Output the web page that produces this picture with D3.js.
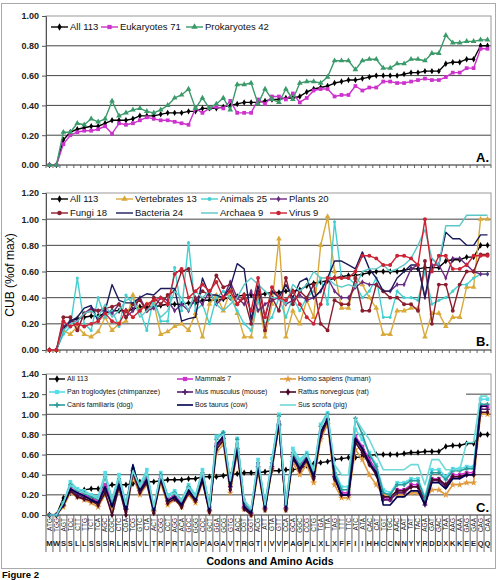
<!DOCTYPE html>
<html>
<head>
<meta charset="utf-8">
<script src="https://cdn.jsdelivr.net/npm/d3@7"></script>
<style>
body { margin: 0; background: #fff; }
svg text { font-family: "Liberation Sans", Arial, sans-serif; }
</style>
</head>
<body>
<div id="chart"></div>
<script>
// categories
const codons = ["ATG","TGG","AGT","TCC","CTT","TTG","TCT","TCA","AGC","CGC","CTC","CGA","TCG","GTC","CTA","ACT",
  "CGG","CCT","AGG","ACA","GCC","GGG","CCC","GCT","GGA","GCG","GTG","ACC","CGT","GGT","ACG","ATT",
  "GTA","GTT","CCA","GCA","GGC","CCG","CTG","TGA","TTA","TAG","TTT","TTC","ATC","ATA","CAC","CAT",
  "TGT","TGC","AAC","AAT","TAT","TAC","AGA","GAT","GAC","TAA","AAG","AAA","GAG","GAA","CAG","CAA"];
const aminoAcids = ["M","W","S","S","L","L","S","S","S","R","L","R","S","V","L","T",
  "R","P","R","T","A","G","P","A","G","A","V","T","R","G","T","I",
  "V","V","P","A","G","P","L","X","L","X","F","F","I","I","H","H",
  "C","C","N","N","Y","Y","R","D","D","X","K","K","E","E","Q","Q"];

// series (CUB, fraction of max)
const all113 = [0,0,0.17,0.22,0.24,0.25,0.26,0.26,0.28,0.30, 0.30,0.30,0.31,0.33,0.33,0.33,0.34,0.35,0.35,0.35,
  0.36,0.36,0.38,0.38,0.38,0.39,0.40,0.41,0.42,0.42, 0.42,0.43,0.44,0.44,0.45,0.45,0.46,0.49,0.51,0.52,
  0.53,0.55,0.56,0.57,0.57,0.58,0.59,0.60,0.60,0.60, 0.60,0.61,0.62,0.62,0.63,0.63,0.63,0.68,0.69,0.69,
  0.71,0.71,0.80,0.80];
const eukaryotes = [0,0,0.14,0.20,0.22,0.23,0.23,0.24,0.26,0.21, 0.28,0.27,0.28,0.30,0.32,0.31,0.30,0.30,0.29,0.28,
  0.27,0.38,0.35,0.38,0.39,0.38,0.43,0.35,0.35,0.35, 0.44,0.41,0.46,0.46,0.44,0.48,0.42,0.45,0.50,0.51,
  0.51,0.46,0.47,0.47,0.53,0.50,0.52,0.52,0.56,0.56, 0.55,0.55,0.56,0.57,0.58,0.57,0.57,0.59,0.62,0.62,
  0.65,0.65,0.78,0.78];
const prokaryotes = [0,0,0.22,0.22,0.28,0.27,0.31,0.29,0.31,0.43, 0.33,0.35,0.37,0.38,0.36,0.35,0.37,0.40,0.45,0.47,
  0.51,0.38,0.45,0.38,0.41,0.45,0.37,0.54,0.54,0.55, 0.41,0.51,0.44,0.42,0.51,0.44,0.55,0.56,0.56,0.55,
  0.59,0.70,0.70,0.70,0.64,0.70,0.71,0.71,0.65,0.65, 0.68,0.68,0.71,0.71,0.70,0.75,0.75,0.87,0.82,0.82,
  0.83,0.83,0.84,0.84];

const vertebrates = [0,0,0.15,0.12,0.18,0.12,0.10,0.14,0.25,0.15, 0.20,0.22,0.42,0.30,0.35,0.36,0.12,0.14,0.18,0.20,
  0.15,0.28,0.10,0.35,0.42,0.30,0.45,0.28,0.10,0.10, 0.40,0.10,0.35,0.85,0.10,0.30,0.20,0.38,0.25,0.80,
  1.02,0.60,0.32,0.32,0.55,0.50,0.40,0.32,0.12,0.12, 0.30,0.30,0.32,0.32,0.10,0.28,0.28,0.18,0.25,0.25,
  0.48,0.48,1.00,1.00];
const animals = [0,0,0.12,0.18,0.55,0.20,0.15,0.40,0.25,0.30, 0.18,0.42,0.35,0.30,0.15,0.40,0.22,0.22,0.63,0.30,
  0.82,0.30,0.35,0.20,0.40,0.45,0.40,0.30,0.20,0.15, 0.38,0.20,0.25,0.40,0.25,0.40,0.30,0.40,0.45,0.55,
  0.35,0.98,0.55,0.55,0.50,0.40,0.45,0.55,0.25,0.25, 0.45,0.40,0.40,0.38,0.60,0.35,0.38,0.40,0.45,0.50,
  0.50,0.55,0.58,0.58];
const plants = [0,0,0.18,0.22,0.22,0.28,0.32,0.30,0.30,0.28, 0.35,0.25,0.30,0.40,0.30,0.32,0.40,0.38,0.30,0.35,
  0.30,0.40,0.35,0.45,0.35,0.40,0.52,0.40,0.35,0.45, 0.30,0.35,0.38,0.40,0.35,0.38,0.42,0.38,0.40,0.45,
  0.55,0.45,0.40,0.40,0.48,0.52,0.50,0.50,0.45,0.45, 0.50,0.50,0.62,0.65,0.40,0.65,0.65,0.55,0.70,0.70,
  0.65,0.60,0.58,0.58];
const fungi = [0,0,0.25,0.25,0.15,0.28,0.30,0.30,0.32,0.33, 0.35,0.25,0.35,0.38,0.30,0.40,0.35,0.42,0.45,0.60,
  0.62,0.38,0.45,0.42,0.57,0.48,0.50,0.35,0.40,0.20, 0.45,0.15,0.40,0.30,0.55,0.35,0.45,0.40,0.50,0.20,
  0.15,0.38,0.35,0.35,0.55,0.30,0.30,0.50,0.45,0.40, 0.40,0.35,0.35,0.30,0.68,0.20,0.50,0.50,0.30,0.50,
  0.60,0.60,0.73,0.73];
const bacteria = [0,0,0.15,0.22,0.25,0.32,0.34,0.22,0.30,0.50, 0.38,0.36,0.36,0.40,0.43,0.42,0.47,0.47,0.47,0.22,
  0.24,0.25,0.55,0.42,0.42,0.40,0.48,0.66,0.62,0.23, 0.50,0.25,0.45,0.40,0.50,0.40,0.52,0.55,0.40,0.45,
  0.55,0.68,0.68,0.65,0.62,0.75,0.62,0.55,0.45,0.45, 0.55,0.60,0.65,0.65,0.40,0.70,0.65,0.90,0.85,0.85,
  0.80,0.80,0.88,0.88];
const archaea = [0,0,0.15,0.20,0.22,0.28,0.30,0.25,0.35,0.25, 0.30,0.38,0.40,0.25,0.30,0.35,0.25,0.30,0.45,0.40,
  0.30,0.45,0.40,0.45,0.35,0.30,0.35,0.40,0.50,0.55, 0.50,0.45,0.40,0.40,0.35,0.50,0.45,0.50,0.60,0.55,
  0.55,0.50,0.48,0.50,0.48,0.60,0.62,0.62,0.65,0.60, 0.62,0.65,0.70,0.80,0.92,0.70,0.65,0.95,0.95,0.95,
  1.03,1.03,1.03,1.03];
const virus = [0,0,0.22,0.18,0.20,0.18,0.20,0.22,0.28,0.22, 0.20,0.30,0.25,0.30,0.35,0.38,0.40,0.35,0.58,0.62,
  0.40,0.45,0.50,0.45,0.52,0.40,0.45,0.35,0.42,0.30, 0.55,0.25,0.48,0.40,0.38,0.45,0.35,0.25,0.20,0.35,
  0.55,0.55,0.55,0.55,0.60,0.72,0.72,0.70,0.65,0.65, 0.72,0.72,0.70,0.65,1.00,0.60,0.72,0.72,0.62,0.62,
  0.65,0.72,0.72,0.72];

const mammals = [0,0,0.10,0.27,0.22,0.20,0.17,0.14,0.30,0.12, 0.32,0.08,0.45,0.25,0.36,0.06,0.38,0.15,0.20,0.12,
  0.26,0.16,0.38,0.06,0.70,0.78,0.30,0.70,0.10,0.03, 0.50,0.08,0.50,0.92,0.08,0.60,0.48,0.58,0.40,0.82,
  0.95,0.40,0.22,0.22,0.78,0.68,0.55,0.45,0.18,0.15, 0.25,0.25,0.30,0.30,0.12,0.36,0.36,0.30,0.40,0.40,
  0.42,0.42,1.08,1.08];
const homoSapiens = [0,0,0.08,0.22,0.18,0.15,0.12,0.08,0.20,0.05, 0.25,0.05,0.38,0.20,0.30,0.03,0.32,0.10,0.15,0.08,
  0.20,0.12,0.32,0.03,0.62,0.70,0.22,0.62,0.06,0.00, 0.42,0.05,0.45,0.88,0.05,0.52,0.40,0.50,0.32,0.75,
  0.90,0.30,0.17,0.17,0.65,0.55,0.40,0.30,0.20,0.20, 0.20,0.20,0.22,0.22,0.15,0.25,0.25,0.20,0.30,0.30,
  0.32,0.32,1.00,1.00];
const panTroglodytes = [0,0,0.12,0.33,0.26,0.24,0.20,0.18,0.42,0.16, 0.40,0.12,0.46,0.30,0.45,0.08,0.42,0.20,0.24,0.15,
  0.30,0.20,0.45,0.10,0.78,0.82,0.35,0.76,0.15,0.06, 0.55,0.12,0.56,1.00,0.12,0.66,0.55,0.62,0.45,0.90,
  1.02,0.45,0.28,0.28,0.85,0.75,0.62,0.50,0.25,0.22, 0.32,0.32,0.36,0.36,0.18,0.45,0.45,0.38,0.46,0.46,
  0.48,0.48,1.15,1.15];
const musMusculus = [0,0,0.10,0.25,0.20,0.18,0.16,0.12,0.26,0.10, 0.30,0.06,0.44,0.24,0.34,0.05,0.36,0.14,0.18,0.10,
  0.24,0.15,0.36,0.05,0.68,0.76,0.28,0.66,0.08,0.02, 0.48,0.07,0.48,0.90,0.07,0.58,0.46,0.56,0.38,0.80,
  0.95,0.38,0.20,0.20,0.75,0.65,0.52,0.42,0.15,0.15, 0.22,0.22,0.28,0.28,0.10,0.34,0.34,0.28,0.38,0.38,
  0.40,0.40,1.05,1.05];
const rattusNorvegicus = [0,0,0.10,0.24,0.18,0.16,0.14,0.10,0.22,0.00, 0.28,0.00,0.42,0.22,0.32,0.02,0.35,0.12,0.16,0.08,
  0.22,0.14,0.34,0.03,0.65,0.74,0.25,0.64,0.06,0.00, 0.46,0.05,0.46,0.90,0.05,0.56,0.44,0.54,0.36,0.78,
  0.94,0.36,0.20,0.20,0.72,0.62,0.50,0.40,0.18,0.18, 0.24,0.24,0.28,0.28,0.15,0.35,0.35,0.30,0.38,0.38,
  0.40,0.40,1.02,1.02];
const canisFamiliaris = [0,0,0.12,0.30,0.24,0.22,0.18,0.16,0.38,0.14, 0.36,0.10,0.46,0.28,0.40,0.06,0.40,0.18,0.22,0.14,
  0.28,0.18,0.42,0.08,0.75,0.82,0.32,0.75,0.12,0.04, 0.52,0.10,0.52,0.98,0.10,0.62,0.50,0.60,0.42,0.88,
  1.00,0.42,0.25,0.25,0.96,0.80,0.60,0.48,0.22,0.20, 0.30,0.30,0.34,0.34,0.16,0.42,0.42,0.35,0.44,0.44,
  0.46,0.46,1.10,1.10];
const bosTaurus = [0,0,0.10,0.26,0.22,0.19,0.15,0.12,0.28,0.08, 0.30,0.05,0.50,0.24,0.35,0.04,0.38,0.14,0.18,0.10,
  0.25,0.15,0.36,0.04,0.70,0.78,0.28,0.68,0.08,0.02, 0.48,0.06,0.50,0.92,0.06,0.58,0.46,0.56,0.38,0.82,
  0.96,0.38,0.20,0.20,0.76,0.66,0.52,0.42,0.10,0.10, 0.18,0.18,0.24,0.24,0.10,0.32,0.32,0.26,0.36,0.36,
  0.40,0.40,1.08,1.08];
const susScrofa = [0,0,0.12,0.30,0.25,0.22,0.20,0.16,0.40,0.15, 0.38,0.10,0.44,0.28,0.42,0.08,0.40,0.18,0.22,0.14,
  0.28,0.18,0.44,0.08,0.76,0.80,0.34,0.74,0.14,0.06, 0.54,0.10,0.54,0.98,0.10,0.64,0.52,0.60,0.44,0.88,
  1.00,0.50,0.40,0.40,0.96,0.85,0.75,0.60,0.45,0.45, 0.45,0.45,0.50,0.50,0.30,0.55,0.55,0.45,0.45,0.45,
  0.72,0.72,1.18,1.18];

const ticksA = [0, 0.2, 0.4, 0.6, 0.8, 1.0];
const ticksB = [0, 0.2, 0.4, 0.6, 0.8, 1.0, 1.2];
const ticksC = [0, 0.2, 0.4, 0.6, 0.8, 1.0, 1.2, 1.4];

const width = 498, height = 580;
const left = 46, right = 491;

const svg = d3.select("#chart").append("svg")
  .attr("width", width)
  .attr("height", height);

svg.append("rect")
  .attr("x", 1.5).attr("y", 3.5)
  .attr("width", 494).attr("height", 565)
  .attr("fill", "#fff")
  .attr("stroke", "#aaa");

const x = d3.scalePoint()
  .domain(d3.range(codons.length))
  .range([left, right])
  .padding(0.5);
const step = x.step();

function drawPanel(p) {
  const y = d3.scaleLinear().domain([0, p.max]).range([p.bottom, p.top]);
  const g = svg.append("g");

  // gridlines
  g.selectAll(".grid")
    .data(p.ticks.filter(t => t > 0 && t < p.max))
    .enter()
    .append("line")
    .attr("x1", left).attr("x2", right)
    .attr("y1", d => y(d)).attr("y2", d => y(d))
    .attr("stroke", "#444")
    .attr("stroke-width", 1);

  // plot area border
  g.append("rect")
    .attr("x", left).attr("y", p.top)
    .attr("width", right - left).attr("height", p.bottom - p.top)
    .attr("fill", "none")
    .attr("stroke", "#999");

  // y axis
  const yAxis = g.append("g")
    .attr("transform", `translate(${left},0)`)
    .call(d3.axisLeft(y).tickValues(p.ticks).tickFormat(d3.format(".2f")).tickSize(4).tickPadding(3));
  yAxis.select(".domain").attr("stroke", "#555");
  yAxis.selectAll(".tick line").attr("stroke", "#555");
  yAxis.selectAll("text")
    .attr("font-size", 9)
    .attr("font-weight", "bold")
    .attr("fill", "#222")
    .style("font-family", "Liberation Sans, Arial, sans-serif");

  // category boundary ticks
  g.selectAll(".xtick")
    .data(d3.range(codons.length + 1))
    .enter()
    .append("line")
    .attr("x1", i => left + i * step).attr("x2", i => left + i * step)
    .attr("y1", p.bottom).attr("y2", p.bottom + p.tickLen)
    .attr("stroke", "#666");

  g.append("line")
    .attr("x1", left).attr("x2", right)
    .attr("y1", p.bottom).attr("y2", p.bottom)
    .attr("stroke", "#555");

  // series
  const line = d3.line().x((d, i) => x(i)).y(d => y(d));
  p.series.forEach(s => {
    g.append("path")
      .datum(s.values)
      .attr("d", line)
      .attr("fill", "none")
      .attr("stroke", s.color)
      .attr("stroke-width", s.width || 1.4)
      .attr("stroke-linejoin", "round");
    if (s.symbol) {
      g.selectAll(null)
        .data(s.values)
        .enter()
        .append("path")
        .attr("transform", (d, i) => `translate(${x(i)},${y(d)})`)
        .attr("d", d3.symbol().type(s.symbol).size(s.size || 12))
        .attr("fill", s.color);
    }
  });

  // legend
  const lg = g.append("g");
  if (p.legendBox) {
    lg.append("rect")
      .attr("x", p.legendBox[0]).attr("y", p.legendBox[1])
      .attr("width", p.legendBox[2]).attr("height", p.legendBox[3])
      .attr("fill", "#fff");
  }
  p.series.forEach(s => {
    const item = lg.append("g").attr("transform", `translate(${s.lx},${s.ly})`);
    item.append("line")
      .attr("x1", 0).attr("x2", p.legLine)
      .attr("stroke", s.color)
      .attr("stroke-width", s.width || 1.4);
    if (s.symbol) {
      item.append("path")
        .attr("transform", `translate(${p.legLine / 2},0)`)
        .attr("d", d3.symbol().type(s.symbol).size((s.size || 12) + 4))
        .attr("fill", s.color);
    }
    item.append("text")
      .attr("x", p.legLine + 2)
      .attr("dy", "0.35em")
      .attr("font-size", p.legFont)
      .attr("fill", "#111")
      .text(s.name);
  });

  // panel letter
  g.append("text")
    .attr("x", right - 2)
    .attr("y", p.letterY)
    .attr("text-anchor", "end")
    .attr("font-size", 13)
    .attr("font-weight", "bold")
    .text(p.letter);

  return y;
}

drawPanel({
  max: 1.0, top: 16, bottom: 165, ticks: ticksA, tickLen: 3, letter: "A.", letterY: 162,
  legLine: 17, legFont: 9.5,
  series: [
    { name: "All 113", values: all113, color: "#000", symbol: d3.symbolDiamond, size: 12, lx: 51, ly: 27 },
    { name: "Eukaryotes 71", values: eukaryotes, color: "#cc33cc", symbol: d3.symbolSquare, size: 14, lx: 101, ly: 27 },
    { name: "Prokaryotes 42", values: prokaryotes, color: "#3a9a6a", symbol: d3.symbolTriangle, size: 14, lx: 186, ly: 27 }
  ]
});

drawPanel({
  max: 1.2, top: 193, bottom: 350, ticks: ticksB, tickLen: 3, letter: "B.", letterY: 346,
  legLine: 17, legFont: 9.5, legendBox: [47, 194, 250, 23],
  series: [
    { name: "All 113", values: all113, color: "#000", symbol: d3.symbolDiamond, size: 12, lx: 51, ly: 199 },
    { name: "Vertebrates 13", values: vertebrates, color: "#d9a93a", symbol: d3.symbolTriangle, size: 14, lx: 116, ly: 199 },
    { name: "Animals 25", values: animals, color: "#44d0d0", symbol: d3.symbolCircle, size: 8, lx: 201, ly: 199 },
    { name: "Plants 20", values: plants, color: "#6a2a80", symbol: d3.symbolDiamond, size: 8, lx: 270, ly: 199 },
    { name: "Fungi 18", values: fungi, color: "#8b1e2e", symbol: d3.symbolCircle, size: 12, lx: 51, ly: 213 },
    { name: "Bacteria 24", values: bacteria, color: "#1a1a5a", lx: 116, ly: 213 },
    { name: "Archaea 9", values: archaea, color: "#5bc8c8", lx: 201, ly: 213 },
    { name: "Virus 9", values: virus, color: "#cc2233", symbol: d3.symbolCircle, size: 12, lx: 270, ly: 213 }
  ]
});

drawPanel({
  max: 1.4, top: 374, bottom: 515, ticks: ticksC, tickLen: 37, letter: "C.", letterY: 512,
  legLine: 16, legFont: 7, legendBox: [47, 375, 419, 36],
  series: [
    { name: "All 113", values: all113, color: "#000", symbol: d3.symbolDiamond, size: 12, lx: 49, ly: 379 },
    { name: "Mammals 7", values: mammals, color: "#cc33cc", symbol: d3.symbolSquare, size: 14, width: 1.6, lx: 177, ly: 379 },
    { name: "Homo sapiens (human)", values: homoSapiens, color: "#e09a40", symbol: d3.symbolStar, size: 16, width: 1.6, lx: 280, ly: 379 },
    { name: "Pan troglodytes (chimpanzee)", values: panTroglodytes, color: "#55dde8", symbol: d3.symbolSquare, size: 14, width: 1.6, lx: 49, ly: 392 },
    { name: "Mus musculus (mouse)", values: musMusculus, color: "#5a2070", symbol: d3.symbolCross, size: 12, width: 1.6, lx: 177, ly: 392 },
    { name: "Rattus norvegicus (rat)", values: rattusNorvegicus, color: "#4a0a2a", symbol: d3.symbolDiamond, size: 12, width: 1.6, lx: 280, ly: 392 },
    { name: "Canis familiaris (dog)", values: canisFamiliaris, color: "#2a9a9a", symbol: d3.symbolCross, size: 10, width: 1.6, lx: 49, ly: 405 },
    { name: "Bos taurus (cow)", values: bosTaurus, color: "#000050", width: 1.6, lx: 177, ly: 405 },
    { name: "Sus scrofa (pig)", values: susScrofa, color: "#6fd8d8", width: 1.6, lx: 280, ly: 405 }
  ]
});

// codon / amino acid labels under panel C
const labels = svg.append("g");
labels.selectAll(".codon")
  .data(codons)
  .enter()
  .append("text")
  .attr("transform", (d, i) => `translate(${x(i) + 2.3},518) rotate(-90)`)
  .attr("text-anchor", "end")
  .attr("font-size", 6.5)
  .attr("fill", "#222")
  .text(d => d);
labels.selectAll(".aa")
  .data(aminoAcids)
  .enter()
  .append("text")
  .attr("x", (d, i) => x(i))
  .attr("y", 546)
  .attr("text-anchor", "middle")
  .attr("font-size", 7.5)
  .attr("font-weight", "bold")
  .attr("fill", "#222")
  .text(d => d);

svg.append("text")
  .attr("x", 270).attr("y", 565)
  .attr("text-anchor", "middle")
  .attr("font-size", 10.5)
  .attr("font-weight", "bold")
  .text("Codons and Amino Acids");

svg.append("text")
  .attr("transform", "translate(14,275) rotate(-90)")
  .attr("text-anchor", "middle")
  .attr("font-size", 12)
  .text("CUB (%of max)");

svg.append("text")
  .attr("x", 2).attr("y", 578)
  .attr("font-size", 9.5)
  .attr("font-weight", "bold")
  .text("Figure 2");
</script>
</body>
</html>
